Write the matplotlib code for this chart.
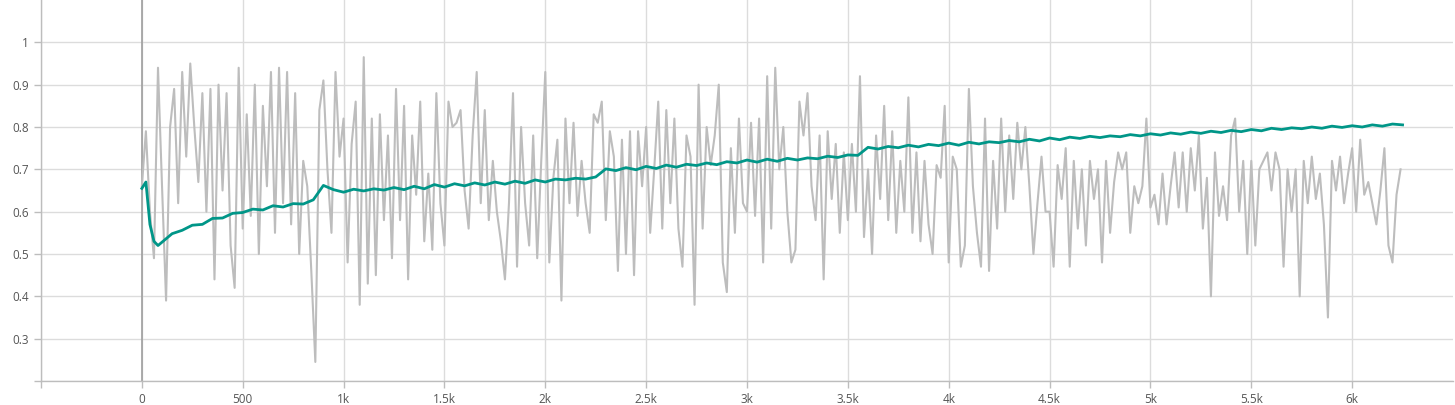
import numpy as np
import matplotlib.pyplot as plt
from matplotlib.ticker import FuncFormatter

# --- raw (gray) series, one value every 20 steps ---
raw_steps = np.arange(0, 6250, 20)
raw_vals = [
    # 0 - 480
    0.66, 0.79, 0.60, 0.49, 0.94, 0.66, 0.39, 0.80, 0.89, 0.62, 0.93, 0.73, 0.95,
    0.80, 0.67, 0.88, 0.60, 0.89, 0.44, 0.90, 0.65, 0.88, 0.52, 0.42, 0.94,
    # 500 - 980
    0.56, 0.83, 0.59, 0.90, 0.50, 0.85, 0.66, 0.93, 0.55, 0.94, 0.62, 0.93, 0.57,
    0.88, 0.50, 0.72, 0.66, 0.46, 0.245, 0.84, 0.91, 0.70, 0.55, 0.93, 0.73,
    # 1000 - 1480
    0.82, 0.48, 0.76, 0.86, 0.38, 0.965, 0.43, 0.82, 0.45, 0.83, 0.58, 0.78, 0.49,
    0.89, 0.58, 0.85, 0.44, 0.78, 0.64, 0.86, 0.53, 0.69, 0.51, 0.88, 0.62,
    # 1500 - 1980
    0.52, 0.86, 0.80, 0.81, 0.84, 0.65, 0.56, 0.78, 0.93, 0.62, 0.84, 0.58, 0.72,
    0.60, 0.53, 0.44, 0.62, 0.88, 0.47, 0.80, 0.62, 0.52, 0.78, 0.49, 0.72,
    # 2000 - 2480
    0.93, 0.48, 0.68, 0.77, 0.39, 0.82, 0.62, 0.81, 0.59, 0.72, 0.62, 0.55, 0.83,
    0.81, 0.86, 0.58, 0.79, 0.73, 0.46, 0.77, 0.50, 0.79, 0.45, 0.79, 0.66,
    # 2500 - 2980
    0.80, 0.55, 0.70, 0.86, 0.56, 0.84, 0.62, 0.82, 0.56, 0.47, 0.78, 0.73, 0.38,
    0.90, 0.56, 0.80, 0.71, 0.78, 0.90, 0.48, 0.41, 0.75, 0.55, 0.82, 0.62,
    # 3000 - 3480
    0.60, 0.81, 0.59, 0.82, 0.48, 0.92, 0.56, 0.94, 0.70, 0.80, 0.60, 0.48, 0.51,
    0.86, 0.78, 0.88, 0.66, 0.58, 0.78, 0.44, 0.79, 0.63, 0.76, 0.55, 0.74,
    # 3500 - 3980
    0.58, 0.76, 0.60, 0.92, 0.54, 0.70, 0.50, 0.78, 0.63, 0.85, 0.58, 0.79, 0.55,
    0.72, 0.60, 0.87, 0.55, 0.74, 0.53, 0.72, 0.57, 0.50, 0.71, 0.68, 0.85,
    # 4000 - 4480
    0.48, 0.73, 0.70, 0.47, 0.52, 0.89, 0.66, 0.55, 0.47, 0.82, 0.46, 0.72, 0.56,
    0.82, 0.60, 0.78, 0.63, 0.81, 0.70, 0.80, 0.66, 0.50, 0.62, 0.73, 0.60,
    # 4500 - 4980
    0.60, 0.47, 0.71, 0.63, 0.75, 0.47, 0.72, 0.56, 0.70, 0.52, 0.72, 0.63, 0.70,
    0.48, 0.72, 0.55, 0.67, 0.74, 0.70, 0.74, 0.55, 0.66, 0.62, 0.66, 0.82,
    # 5000 - 5480
    0.61, 0.64, 0.57, 0.69, 0.57, 0.66, 0.74, 0.61, 0.74, 0.60, 0.75, 0.65, 0.78,
    0.56, 0.68, 0.40, 0.74, 0.59, 0.66, 0.58, 0.78, 0.82, 0.60, 0.72, 0.50,
    # 5500 - 5980
    0.72, 0.52, 0.70, 0.72, 0.74, 0.65, 0.74, 0.70, 0.47, 0.70, 0.60, 0.70, 0.40,
    0.72, 0.62, 0.73, 0.63, 0.69, 0.57, 0.35, 0.72, 0.65, 0.73, 0.62, 0.69,
    # 6000 - 6240
    0.75, 0.60, 0.77, 0.64, 0.67, 0.62, 0.57, 0.65, 0.75, 0.52, 0.48, 0.64, 0.70,
]

# --- smoothed (teal) series ---
teal_steps = np.concatenate([[0, 20, 40, 60, 80], np.arange(100, 6251, 50)])
teal_vals = [
    0.655, 0.670, 0.570, 0.530, 0.520,
    0.528, 0.548, 0.556, 0.568, 0.570, 0.584, 0.585, 0.596, 0.598, 0.606,
    0.604, 0.614, 0.611, 0.619, 0.618, 0.628, 0.662, 0.652, 0.646, 0.653,
    0.649, 0.654, 0.651, 0.657, 0.652, 0.660, 0.654, 0.664, 0.658, 0.666,
    0.661, 0.668, 0.663, 0.670, 0.665, 0.672, 0.667, 0.675, 0.670, 0.677,
    0.675, 0.679, 0.677, 0.682, 0.701, 0.697, 0.704, 0.699, 0.707, 0.702,
    0.710, 0.705, 0.712, 0.709, 0.715, 0.711, 0.718, 0.715, 0.722, 0.717,
    0.724, 0.719, 0.726, 0.722, 0.727, 0.725, 0.731, 0.728, 0.734, 0.733,
    0.752, 0.748, 0.754, 0.751, 0.757, 0.753, 0.759, 0.756, 0.762, 0.757,
    0.764, 0.760, 0.765, 0.763, 0.768, 0.765, 0.771, 0.767, 0.774, 0.770,
    0.776, 0.773, 0.778, 0.775, 0.779, 0.777, 0.782, 0.779, 0.784, 0.781,
    0.786, 0.783, 0.788, 0.785, 0.790, 0.787, 0.792, 0.789, 0.794, 0.791,
    0.797, 0.794, 0.798, 0.796, 0.800, 0.797, 0.802, 0.799, 0.803, 0.800,
    0.805, 0.802, 0.807, 0.805,
]

x_ticks = np.arange(-500, 6001, 500)
y_ticks = [0.2, 0.3, 0.4, 0.5, 0.6, 0.7, 0.8, 0.9, 1.0]

plt.rcParams['font.family'] = ['Open Sans', 'DejaVu Sans']

fig = plt.figure(figsize=(14.55, 4.05), dpi=100)
ax = fig.add_axes([41 / 1455, 24 / 405, 1412 / 1455, 381 / 405])

ax.plot(raw_steps, raw_vals, color='#bdbdbd', lw=1.5, zorder=2)
ax.plot(teal_steps, teal_vals, color='#009688', lw=2.0, zorder=3)
ax.axvline(0, color='#9e9e9e', lw=1.2, zorder=1)

ax.set_xlim(-500, 6500)
ax.set_ylim(0.2, 1.1)
ax.set_xticks(x_ticks)
ax.set_yticks(y_ticks)


def fmt_x(v, pos):
    if v < 0:
        return ''
    if v >= 1000:
        return f'{v / 1000:g}k'
    return f'{v:g}'


def fmt_y(v, pos):
    if v < 0.25:
        return ''
    return f'{v:g}'


ax.xaxis.set_major_formatter(FuncFormatter(fmt_x))
ax.yaxis.set_major_formatter(FuncFormatter(fmt_y))
ax.grid(True, color='#dcdcdc', lw=1.0, zorder=0)
ax.set_axisbelow(True)

for side in ('top', 'right'):
    ax.spines[side].set_visible(False)
for side in ('left', 'bottom'):
    ax.spines[side].set_color('#bdbdbd')
    ax.spines[side].set_linewidth(1.0)
ax.tick_params(axis='both', colors='#bdbdbd', length=5, width=1.0,
               labelcolor='#555555', labelsize=8.5)

fig.savefig('out.png', dpi=100)
